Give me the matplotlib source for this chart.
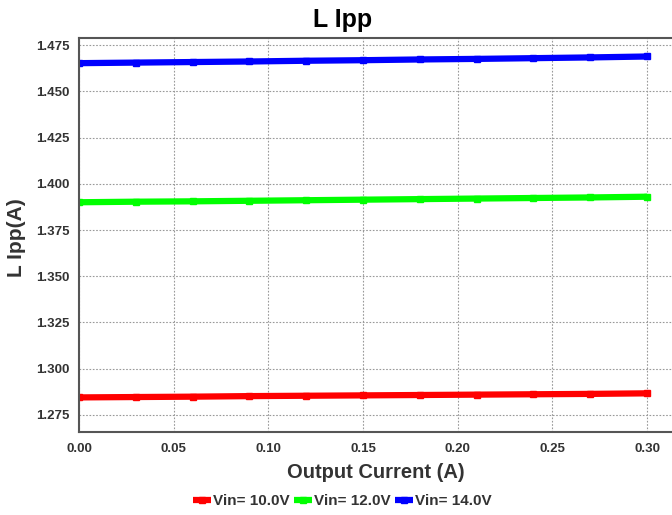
import matplotlib
matplotlib.use("Agg")
import matplotlib.pyplot as plt

plt.rcParams['font.family'] = ['Liberation Sans', 'DejaVu Sans']

current = [0.00, 0.03, 0.06, 0.09, 0.12, 0.15, 0.18, 0.21, 0.24, 0.27, 0.30]
ipp_10 = [1.2845, 1.2847, 1.2849, 1.2852, 1.2854, 1.2856, 1.2858, 1.2860, 1.2862, 1.2864, 1.2867]
ipp_12 = [1.3900, 1.3903, 1.3905, 1.3908, 1.3911, 1.3914, 1.3917, 1.3920, 1.3923, 1.3926, 1.3930]
ipp_14 = [1.4652, 1.4655, 1.4658, 1.4661, 1.4665, 1.4668, 1.4672, 1.4675, 1.4679, 1.4683, 1.4688]
labels = ["Vin= 10.0V", "Vin= 12.0V", "Vin= 14.0V"]
colors = ["#ff0000", "#00ff00", "#0000ff"]
xticks = [0.00, 0.05, 0.10, 0.15, 0.20, 0.25, 0.30]
yticks = [1.275, 1.300, 1.325, 1.350, 1.375, 1.400, 1.425, 1.450, 1.475]

W, H = 672, 515
fig = plt.figure(figsize=(W / 100, H / 100), dpi=100)
ax = fig.add_axes([79 / W, 1 - 432 / H, (W - 79) / W, (432 - 38) / H])

for ys, lab, c in zip([ipp_10, ipp_12, ipp_14], labels, colors):
    ax.plot(current, ys, color=c, lw=4.5, marker='s', ms=5, label=lab, solid_capstyle='butt')

ax.set_xlim(0, 0.3132)
ax.set_ylim(1.2658, 1.4788)
ax.set_xticks(xticks)
ax.set_xticklabels([f"{v:.2f}" for v in xticks])
ax.set_yticks(yticks)
ax.set_yticklabels([f"{v:.3f}" for v in yticks])
ax.grid(True, linestyle=(0, (1.5, 1.5)), color='#999999', lw=0.8)
ax.set_axisbelow(True)
for s in ['top', 'left', 'bottom']:
    ax.spines[s].set_color('#555555')
    ax.spines[s].set_linewidth(1.5)
ax.spines['right'].set_visible(False)
ax.tick_params(axis='x', length=0, pad=8, labelsize=9.5, labelcolor='#333333')
ax.tick_params(axis='y', length=0, pad=7, labelsize=9.5, labelcolor='#333333')
for t in ax.get_xticklabels() + ax.get_yticklabels():
    t.set_fontweight('bold')

fig.text(343 / W, 1 - 27 / H, "L Ipp", fontsize=18, fontweight='bold', ha='center', va='baseline')

bb_w = W - 79
bb_h = 432 - 38
ax.set_xlabel("Output Current (A)", fontsize=14.5, fontweight='bold', color='#333333')
ax.xaxis.set_label_coords((376 - 79) / bb_w, -(472 - 432) / bb_h)
ax.xaxis.label.set_va('center')
ax.set_ylabel("L Ipp(A)", fontsize=15, fontweight='bold', color='#333333')
ax.yaxis.set_label_coords(-(79 - 16) / bb_w, (432 - 238) / bb_h)
ax.yaxis.label.set_va('center')

leg = fig.legend(loc='center', bbox_to_anchor=(342 / W, 1 - 501 / H), ncol=3, frameon=False,
                 handlelength=1.2, handletextpad=0.1, columnspacing=0.3,
                 prop={'weight': 'bold', 'size': 11})
for t in leg.get_texts():
    t.set_color('#333333')

fig.savefig("out.png", dpi=100)
